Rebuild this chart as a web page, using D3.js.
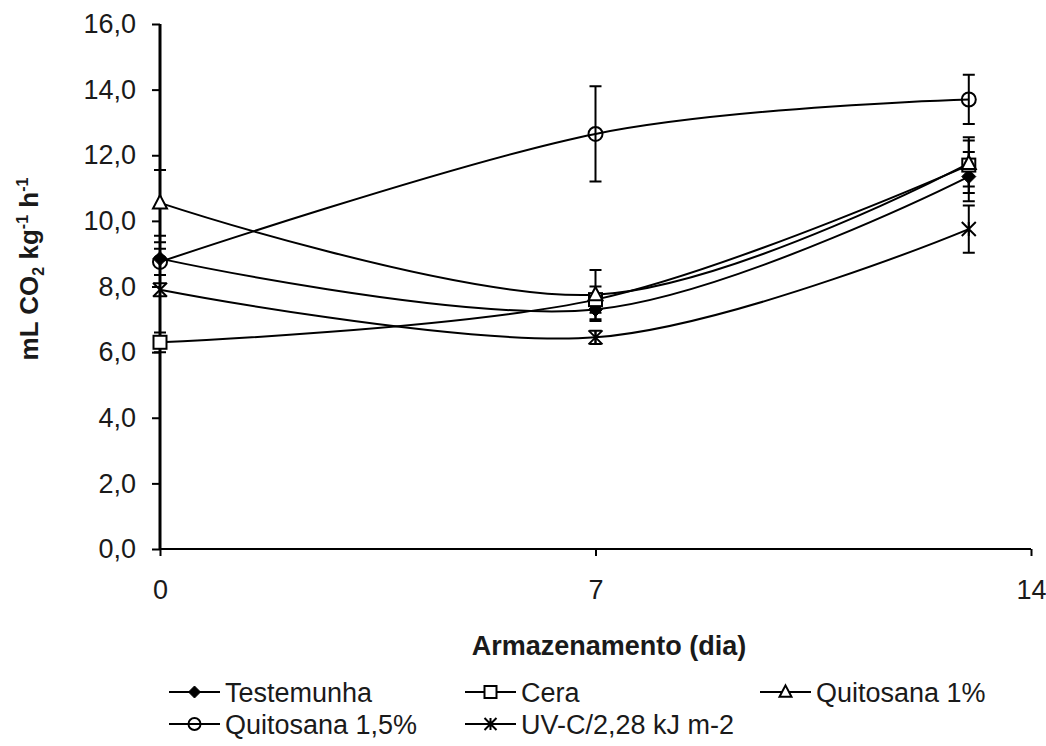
<!DOCTYPE html>
<html>
<head>
<meta charset="utf-8">
<script src="https://cdn.jsdelivr.net/npm/d3@7"></script>
<style>
  body { margin: 0; background: #fff; }
  svg { display: block; font-family: "Liberation Sans", Arial, sans-serif; }
</style>
</head>
<body>
<svg width="1046" height="746"></svg>
<script>
// dados (dias de armazenamento)
const days = [0, 7, 13];
const xTicks = [0, 7, 14];
const yTicks = [0, 2, 4, 6, 8, 10, 12, 14, 16];

const testemunha = [8.85, 7.3, 11.35];
const testemunhaErr = [0.5, 0.35, 0.75];
const cera = [6.3, 7.6, 11.7];
const ceraErr = [0.3, 0.4, 0.85];
const quit1 = [10.55, 7.75, 11.75];
const quit1Err = [1.0, 0.75, 0.7];
const quit15 = [8.75, 12.65, 13.7];
const quit15Err = [0.4, 1.45, 0.75];
const uvc = [7.9, 6.45, 9.75];
const uvcErr = [0.2, 0.2, 0.72];

const seriesNames = ["Testemunha", "Cera", "Quitosana 1%", "Quitosana 1,5%", "UV-C/2,28 kJ m-2"];
const seriesValues = [testemunha, cera, quit1, quit15, uvc];
const seriesErrors = [testemunhaErr, ceraErr, quit1Err, quit15Err, uvcErr];
const seriesMarkers = ["diamond", "square", "triangle", "circle", "asterisk"];

const svg = d3.select("svg");
const textColor = "#1a1a1a";

const x = d3.scaleLinear().domain([0, 14]).range([160, 1031]);
const y = d3.scaleLinear().domain([0, 16]).range([549, 24]);

const fmt = d => d3.format(".1f")(d).replace(".", ",");

// eixo y
const yAxis = svg.append("g")
  .attr("transform", `translate(${x(0)},0)`)
  .call(d3.axisLeft(y).tickValues(yTicks).tickSize(8).tickPadding(16).tickFormat(fmt));
yAxis.select(".domain").attr("stroke", "#000").attr("stroke-width", 3).attr("d", `M0,${y(16)}V${y(0)}`);
yAxis.selectAll(".tick line").attr("stroke", "#000").attr("stroke-width", 2);
yAxis.selectAll(".tick text")
  .attr("fill", textColor)
  .style("font-size", "27px")
  .style("font-family", "Liberation Sans, Arial, sans-serif");

// eixo x
const xAxis = svg.append("g")
  .attr("transform", `translate(0,${y(0)})`)
  .call(d3.axisBottom(x).tickValues(xTicks).tickSize(7).tickPadding(24).tickFormat(d3.format("d")));
xAxis.select(".domain").attr("stroke", "#000").attr("stroke-width", 2).attr("d", `M${x(0)},0H${x(14)}`);
xAxis.selectAll(".tick line").attr("stroke", "#000").attr("stroke-width", 2);
xAxis.selectAll(".tick text")
  .attr("fill", textColor)
  .style("font-size", "27px")
  .style("font-family", "Liberation Sans, Arial, sans-serif");

// titulos
svg.append("text")
  .attr("x", 609)
  .attr("y", 655)
  .attr("text-anchor", "middle")
  .style("font-size", "27px")
  .style("font-weight", "bold")
  .attr("fill", textColor)
  .text("Armazenamento (dia)");

const yTitle = svg.append("text")
  .attr("transform", "translate(38,269) rotate(-90)")
  .attr("text-anchor", "middle")
  .style("font-size", "26px")
  .style("font-weight", "bold")
  .attr("fill", textColor);
yTitle.append("tspan").text("mL CO");
yTitle.append("tspan").attr("dy", 6).style("font-size", "16px").text("2");
yTitle.append("tspan").attr("dy", -6).text(" kg");
yTitle.append("tspan").attr("dy", -10).style("font-size", "16px").text("-1");
yTitle.append("tspan").attr("dy", 10).text(" h");
yTitle.append("tspan").attr("dy", -10).style("font-size", "16px").text("-1");

// marcadores
function drawMarker(g, type, cx, cy, s) {
  if (type === "diamond") {
    g.append("path")
      .attr("d", `M${cx},${cy - s}L${cx + s},${cy}L${cx},${cy + s}L${cx - s},${cy}Z`)
      .attr("fill", "#000").attr("stroke", "#000").attr("stroke-width", 1);
  } else if (type === "square") {
    g.append("rect")
      .attr("x", cx - s).attr("y", cy - s)
      .attr("width", 2 * s).attr("height", 2 * s)
      .attr("fill", "#fff").attr("stroke", "#000").attr("stroke-width", 2);
  } else if (type === "triangle") {
    g.append("path")
      .attr("d", `M${cx},${cy - s * 1.1}L${cx + s},${cy + s * 0.8}L${cx - s},${cy + s * 0.8}Z`)
      .attr("fill", "#fff").attr("stroke", "#000").attr("stroke-width", 2);
  } else if (type === "circle") {
    g.append("circle")
      .attr("cx", cx).attr("cy", cy).attr("r", s)
      .attr("fill", "none").attr("stroke", "#000").attr("stroke-width", 2);
  } else if (type === "asterisk") {
    g.append("path")
      .attr("d", `M${cx - s},${cy - s}L${cx + s},${cy + s}M${cx - s},${cy + s}L${cx + s},${cy - s}M${cx},${cy - s}V${cy + s}`)
      .attr("fill", "none").attr("stroke", "#000").attr("stroke-width", 2);
  }
}

const line = d3.line()
  .x((d, i) => x(days[i]))
  .y(d => y(d))
  .curve(d3.curveCardinal.tension(0));

const plot = svg.append("g");

// linhas
seriesValues.forEach(vals => {
  plot.append("path")
    .datum(vals)
    .attr("d", line)
    .attr("fill", "none")
    .attr("stroke", "#000")
    .attr("stroke-width", 2);
});

// barras de erro
seriesValues.forEach((vals, k) => {
  vals.forEach((v, i) => {
    const e = seriesErrors[k][i];
    const cx = x(days[i]);
    plot.append("path")
      .attr("d", `M${cx},${y(v + e)}V${y(v - e)}M${cx - 6},${y(v + e)}H${cx + 6}M${cx - 6},${y(v - e)}H${cx + 6}`)
      .attr("fill", "none")
      .attr("stroke", "#000")
      .attr("stroke-width", 2);
  });
});

// pontos
const markerSize = { diamond: 7, square: 6.5, triangle: 7, circle: 7, asterisk: 7 };
seriesValues.forEach((vals, k) => {
  vals.forEach((v, i) => {
    drawMarker(plot, seriesMarkers[k], x(days[i]), y(v), markerSize[seriesMarkers[k]]);
  });
});

// legenda
const legendCols = [169, 465, 760];
const legendRows = [692, 724];
seriesNames.forEach((name, k) => {
  const lx = legendCols[k % 3];
  const ly = legendRows[Math.floor(k / 3)];
  const lg = svg.append("g");
  lg.append("line")
    .attr("x1", lx).attr("x2", lx + 51)
    .attr("y1", ly).attr("y2", ly)
    .attr("stroke", "#000").attr("stroke-width", 2);
  drawMarker(lg, seriesMarkers[k], lx + 25.5, ly, 6);
  lg.append("text")
    .attr("x", lx + 56)
    .attr("y", ly + 10)
    .style("font-size", "27px")
    .attr("fill", textColor)
    .text(name);
});
</script>
</body>
</html>
